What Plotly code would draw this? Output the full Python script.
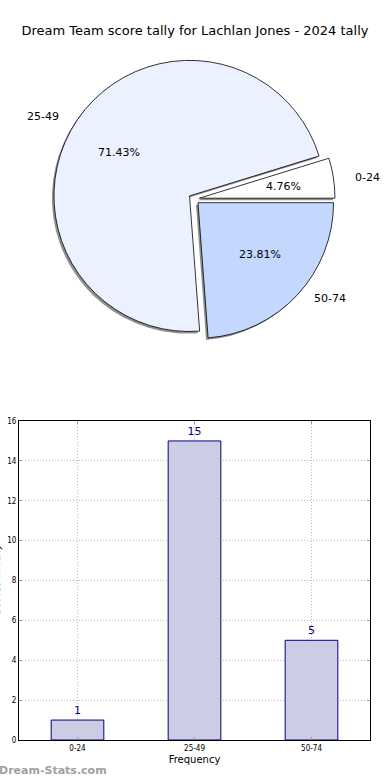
import math
import plotly.graph_objects as go

# ---- data ----
pie_labels = ["0-24", "25-49", "50-74"]
pie_values = [1, 15, 5]
pie_colors = ["#FFFFFF", "#EBF1FF", "#C4D8FF"]

bar_categories = ["0-24", "25-49", "50-74"]
bar_values = [1, 15, 5]
y_ticks = [0, 2, 4, 6, 8, 10, 12, 14, 16]

title_text = "Dream Team score tally for Lachlan Jones - 2024 tally"
y_title = "Scores in Tally"

W, H = 390, 780

def px_x(p):
    return p / W

def px_y(p):
    return 1 - p / H

total = sum(pie_values)
shares = [v / total for v in pie_values]
# first slice starts at 3 o'clock and runs counterclockwise (plotly places the
# first slice clockwise of the rotation line when direction is counterclockwise)
pie_rotation = 90 - 360 * shares[0]

PULL = 0.04
cx, cy, R = 194, 199, 141
pie_dom_x = [px_x(cx - R), px_x(cx + R)]
pie_dom_y = [px_y(cy + R), px_y(cy - R)]
sh = 2
shadow_dom_x = [px_x(cx - R - sh), px_x(cx + R - sh)]
shadow_dom_y = [px_y(cy + R + sh), px_y(cy - R + sh)]
# label placement radii (the original pie is slightly elliptical)
rx_lab, ry_lab, off_lab = 142, 128, 5

fig = go.Figure()

# shadow pie
fig.add_trace(go.Pie(
    labels=pie_labels, values=pie_values, sort=False,
    direction="counterclockwise", rotation=pie_rotation,
    pull=[PULL] * 3,
    marker=dict(colors=["#8f8f8f"] * 3, line=dict(width=0)),
    textinfo="none",
    domain=dict(x=shadow_dom_x, y=shadow_dom_y),
    showlegend=False, hoverinfo="skip",
))

# main pie
fig.add_trace(go.Pie(
    labels=pie_labels, values=pie_values, sort=False,
    direction="counterclockwise", rotation=pie_rotation,
    pull=[PULL] * 3,
    marker=dict(colors=pie_colors, line=dict(color="#000000", width=0.8)),
    textinfo="none",
    domain=dict(x=pie_dom_x, y=pie_dom_y),
    showlegend=False,
))

# labels at 1.1 r and percentages at 0.6 r, along each slice's mid-angle
annotations = []
start = 0.0
for lab, s in zip(pie_labels, shares):
    mid = math.radians((start + s / 2) * 360)
    start += s
    c, sn = math.cos(mid), math.sin(mid)
    lx = cx + (off_lab + 1.1 * rx_lab) * c
    ly = cy - (off_lab + 1.1 * ry_lab) * sn
    annotations.append(dict(
        text=lab, xref="paper", yref="paper", x=px_x(lx), y=px_y(ly),
        xanchor="left" if c > 0 else "right", yanchor="middle",
        showarrow=False, font=dict(family="DejaVu Sans", size=11, color="#000000"),
    ))
    tx = cx + (off_lab + 0.6 * rx_lab) * c
    ty = cy - (off_lab + 0.6 * ry_lab) * sn
    annotations.append(dict(
        text=f"{s * 100:.2f}%", xref="paper", yref="paper", x=px_x(tx), y=px_y(ty),
        xanchor="center", yanchor="middle",
        showarrow=False, font=dict(family="DejaVu Sans", size=11, color="#000000"),
    ))

# y-axis title, mostly cut off by the left page edge as in the original
annotations.append(dict(
    text=y_title, xref="paper", yref="paper", textangle=-90,
    x=0, y=px_y(580), xanchor="center", yanchor="middle", xshift=-4,
    showarrow=False, font=dict(family="DejaVu Sans", size=10, color="#000000"),
))

annotations.append(dict(
    text="<b>Dream-Stats.com</b>", xref="paper", yref="paper",
    x=0, y=px_y(770), xanchor="left", yanchor="middle", xshift=-3,
    showarrow=False, font=dict(family="DejaVu Sans", size=11, color="#a0a0a0"),
))

# bar chart
fig.add_trace(go.Bar(
    x=bar_categories, y=bar_values, width=0.45,
    marker=dict(color="#CCCCE5", line=dict(color="#000080", width=1)),
    text=[str(v) for v in bar_values], textposition="outside",
    textfont=dict(family="DejaVu Sans", size=11, color="#000080"),
    cliponaxis=False, showlegend=False,
    xaxis="x", yaxis="y",
))

fig.update_layout(
    width=W, height=H,
    margin=dict(l=0, r=0, t=0, b=0),
    paper_bgcolor="#FFFFFF", plot_bgcolor="#FFFFFF",
    font=dict(family="DejaVu Sans", color="#000000"),
    title=dict(text=title_text, x=0.5, xanchor="center", y=px_y(30), yanchor="middle",
               font=dict(family="DejaVu Sans", size=13, color="#000000")),
    xaxis=dict(
        domain=[px_x(19), px_x(370)], range=[-0.5, 2.5],
        showline=True, linecolor="#000000", linewidth=1, mirror="allticks",
        ticks="inside", ticklen=3, tickcolor="#9a9a9a",
        showgrid=True, gridcolor="#bdbdbd", griddash="1px,2px", gridwidth=1,
        tickfont=dict(family="DejaVu Sans Condensed", size=8, color="#000000"),
        title=dict(text="Frequency", font=dict(family="DejaVu Sans", size=10), standoff=4),
        zeroline=False, fixedrange=True, automargin=False,
    ),
    yaxis=dict(
        domain=[px_y(740), px_y(421)], range=[0, 16], tickvals=y_ticks,
        showline=True, linecolor="#000000", linewidth=1, mirror="allticks",
        ticks="inside", ticklen=3, tickcolor="#9a9a9a",
        showgrid=True, gridcolor="#bdbdbd", griddash="1px,2px", gridwidth=1,
        tickfont=dict(family="DejaVu Sans Condensed", size=8, color="#000000"),
        zeroline=False, fixedrange=True, automargin=False,
    ),
    annotations=annotations,
)

fig.write_html("out.html", config={"displayModeBar": False},
               post_script="document.body.style.margin='0px';")
